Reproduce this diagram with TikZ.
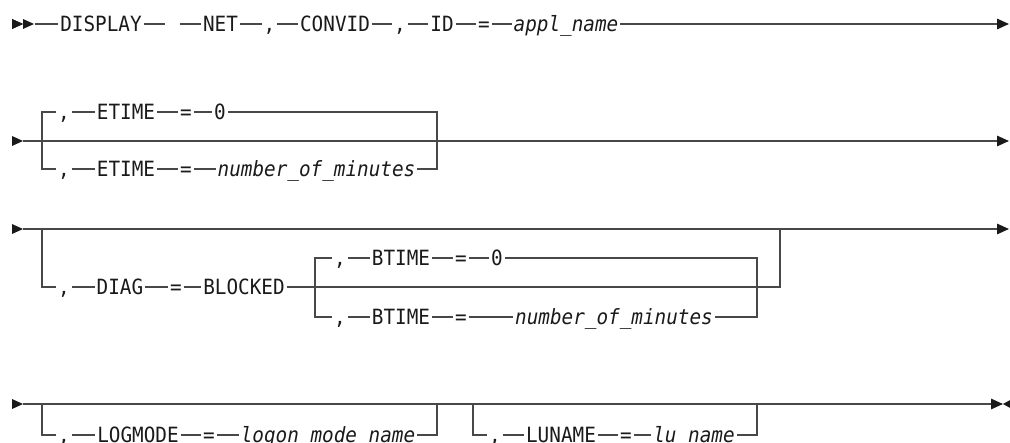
\documentclass[tikz,border=0pt]{standalone}
\usepackage{fontspec}
\newfontfamily\railfont[FakeStretch=0.92]{DejaVu Sans Mono}
\usetikzlibrary{arrows.meta}
\definecolor{railgray}{HTML}{484848}
\definecolor{ink}{HTML}{1A1A1A}

\begin{document}
\begin{tikzpicture}
	[x=0.5pt,y=-0.5pt,line width=0.85pt,color=railgray,
	 every node/.style={inner sep=0.6pt,text height=7.6pt,text depth=0pt,text=ink,
	   font=\railfont\fontsize{10.5pt}{12pt}\selectfont},
	 var/.style={font=\railfont\itshape\fontsize{10.5pt}{12pt}\selectfont},
	 tip/.style={-{Triangle[length=6pt,width=5.2pt,color=ink]}}]
	\useasboundingbox (0,0) rectangle (1010,443);
	
	% start marks
	\fill[ink] (12,19) -- (23,24) -- (12,29) -- cycle;
	\foreach \y in {24,141,229,404}
	\fill[ink] (12,\y-5) -- (23,\y) -- (12,\y+5) -- cycle;
	\fill[ink] (23,19) -- (34,24) -- (23,29) -- cycle;
	
	% row 1
	\coordinate (s1) at (35,24);
	\node (disp) at (101,24) {DISPLAY};
	\coordinate (g1) at (165,24);
	\coordinate (g2) at (180,24);
	\node (net) at (220.5,24) {NET};
	\node (c1) at (269.5,24) {,};
	\node (convid) at (335,24) {CONVID};
	\node (c2) at (400,24) {,};
	\node (idk) at (442,24) {ID};
	\node (eq1) at (484,24) {=};
	\node[var] (appl) at (566,24) {appl\_name};
	\coordinate (e1) at (1009,24);
	
	\foreach \from/\to in {s1/disp,disp/g1,g2/net,net/c1,c1/convid,convid/c2,c2/idk,idk/eq1,eq1/appl}
	\draw (\from) -- (\to);
	\draw[tip] (appl) -- (e1);
	
	% row 2
	\coordinate (s2) at (23,141);
	\coordinate (e2) at (1009,141);
	\coordinate (l2) at (42,141);
	\coordinate (r2) at (437,141);
	\node (c3) at (64,112) {,};
	\node (et1) at (126,112) {ETIME};
	\node (eq2) at (186,112) {=};
	\node (zero1) at (220,112) {0};
	\node (c4) at (64,169) {,};
	\node (et2) at (126,169) {ETIME};
	\node (eq3) at (186,169) {=};
	\node[var] (num1) at (316.5,169) {number\_of\_minutes};
	
	\draw[tip] (s2) -- (e2);
	\draw (c3) -| (l2) |- (c4);
	\draw (zero1) -| (r2) |- (num1);
	\foreach \from/\to in {c3/et1,et1/eq2,eq2/zero1,c4/et2,et2/eq3,eq3/num1}
	\draw (\from) -- (\to);
	
	% row 3
	\coordinate (s3) at (23,229);
	\coordinate (e3) at (1009,229);
	\coordinate (l3) at (42,229);
	\coordinate (r3) at (780,229);
	\coordinate (il) at (315,287);
	\coordinate (ir) at (757,287);
	\node (c5) at (64,287) {,};
	\node (diag) at (120,287) {DIAG};
	\node (eq4) at (176,287) {=};
	\node (blk) at (244,287) {BLOCKED};
	\node (c6) at (340,258) {,};
	\node (bt1) at (401,258) {BTIME};
	\node (eq5) at (461,258) {=};
	\node (zero2) at (497,258) {0};
	\node (c7) at (340,317) {,};
	\node (bt2) at (401,317) {BTIME};
	\node (eq6) at (461,317) {=};
	\node[var] (num2) at (614,317) {number\_of\_minutes};
	
	\draw[tip] (s3) -- (e3);
	\draw (l3) |- (c5);
	\draw (blk) -| (r3);
	\draw (c6) -| (il) |- (c7);
	\draw (zero2) -| (ir) |- (num2);
	\foreach \from/\to in {c5/diag,diag/eq4,eq4/blk,c6/bt1,bt1/eq5,eq5/zero2,c7/bt2,bt2/eq6,eq6/num2}
	\draw (\from) -- (\to);
	
	% row 4
	\coordinate (s4) at (23,404);
	\coordinate (e4) at (1003,404);
	\coordinate (l4) at (42,404);
	\coordinate (r4) at (437,404);
	\coordinate (l5) at (473,404);
	\coordinate (r5) at (757,404);
	\node (c8) at (64,435) {,};
	\node (lgm) at (138,435) {LOGMODE};
	\node (eq7) at (209,435) {=};
	\node[var] (lmn) at (328,435) {logon mode name};
	\node (c9) at (495,435) {,};
	\node (lun) at (561,435) {LUNAME};
	\node (eq8) at (626,435) {=};
	\node[var] (lnm) at (694,435) {lu name};
	
	\draw[tip] (s4) -- (e4);
	\fill[ink] (1012,399) -- (1003,404) -- (1012,409) -- cycle;
	\draw (l4) |- (c8);
	\draw (lmn) -| (r4);
	\draw (l5) |- (c9);
	\draw (lnm) -| (r5);
	\foreach \from/\to in {c8/lgm,lgm/eq7,eq7/lmn,c9/lun,lun/eq8,eq8/lnm}
	\draw (\from) -- (\to);
	
\end{tikzpicture}
\end{document}
